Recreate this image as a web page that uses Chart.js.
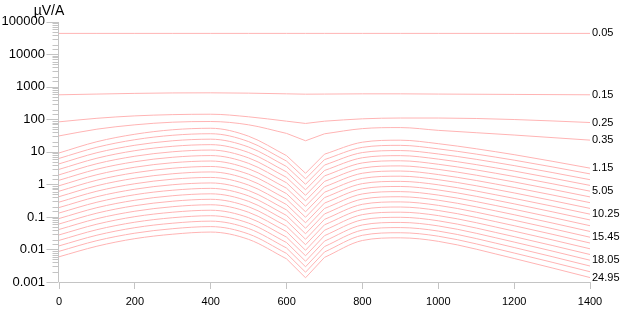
<!DOCTYPE html>
<html lang="en">
<head>
    <meta charset="UTF-8">
    <title>µV/A curves</title>
    <script src="https://cdn.jsdelivr.net/npm/chart.js"></script>
    <style>
        body { margin: 0; background: #fff; }
    </style>
</head>
<body>
    <canvas id="chart" width="623" height="314"></canvas>

    <script>
        // x positions of the samples
        const xValues = [0, 100, 200, 300, 400, 500, 600, 650, 700, 800, 900, 1000, 1200, 1400];

        // upper curves
        const c005 = [44000, 44000, 44000, 44000, 44000, 44000, 44000, 44000, 44000, 44000, 44000, 44000, 44000, 44000];
        const c015 = [570, 600, 630, 650, 655, 640, 610, 595, 600, 610, 610, 600, 585, 570];
        const c025 = [84, 108, 128, 140, 144, 120, 88, 75, 88, 104, 110, 110, 99, 80];
        const c035 = [31, 50, 68, 82, 86, 68, 37, 22, 36, 52, 56, 46, 33, 23];

        // the bundle of curves below, top to bottom
        const b01 = [9.27, 20.6, 34.9, 48.0, 53.3, 30.3, 7.66, 2.20, 8.51, 19.9, 22.9, 17.9, 8.22, 3.17];
        const b02 = [6.30, 13.9, 23.7, 32.5, 36.2, 20.7, 5.21, 1.49, 5.79, 13.8, 15.9, 12.4, 5.58, 2.11];
        const b03 = [4.28, 9.44, 16.0, 22.0, 24.6, 14.1, 3.55, 1.01, 3.94, 9.55, 11.0, 8.63, 3.79, 1.40];
        const b04 = [2.90, 6.40, 10.9, 14.9, 16.7, 9.57, 2.42, 0.684, 2.69, 6.62, 7.67, 6.00, 2.58, 0.933];
        const b05 = [1.97, 4.34, 7.36, 10.1, 11.4, 6.52, 1.64, 0.463, 1.83, 4.59, 5.33, 4.17, 1.75, 0.621];
        const b06 = [1.34, 2.94, 4.99, 6.85, 7.71, 4.44, 1.12, 0.314, 1.24, 3.18, 3.71, 2.90, 1.19, 0.413];
        const b07 = [0.910, 1.99, 3.38, 4.65, 5.24, 3.02, 0.762, 0.213, 0.847, 2.21, 2.58, 2.01, 0.807, 0.275];
        const b08 = [0.618, 1.35, 2.29, 3.15, 3.56, 2.06, 0.519, 0.144, 0.577, 1.53, 1.79, 1.40, 0.548, 0.183];
        const b09 = [0.420, 0.914, 1.55, 2.13, 2.42, 1.40, 0.353, 0.0977, 0.393, 1.06, 1.24, 0.973, 0.372, 0.122];
        const b10 = [0.285, 0.619, 1.05, 1.45, 1.64, 0.953, 0.240, 0.0662, 0.267, 0.736, 0.865, 0.676, 0.253, 0.0809];
        const b11 = [0.194, 0.420, 0.713, 0.980, 1.11, 0.649, 0.164, 0.0449, 0.182, 0.511, 0.601, 0.470, 0.172, 0.0538];
        const b12 = [0.132, 0.284, 0.483, 0.664, 0.757, 0.442, 0.111, 0.0304, 0.124, 0.354, 0.418, 0.327, 0.117, 0.0358];
        const b13 = [0.0893, 0.193, 0.327, 0.450, 0.514, 0.301, 0.0759, 0.0206, 0.0843, 0.245, 0.290, 0.227, 0.0793, 0.0238];
        const b14 = [0.0607, 0.131, 0.222, 0.305, 0.349, 0.205, 0.0516, 0.0140, 0.0574, 0.170, 0.202, 0.158, 0.0538, 0.0158];
        const b15 = [0.0412, 0.0885, 0.150, 0.207, 0.237, 0.139, 0.0352, 0.00946, 0.0391, 0.118, 0.140, 0.110, 0.0366, 0.0105];
        const b16 = [0.0280, 0.0600, 0.102, 0.140, 0.161, 0.0948, 0.0239, 0.00641, 0.0266, 0.0818, 0.0975, 0.0762, 0.0248, 0.00701];
        const b17 = [0.0190, 0.0406, 0.0690, 0.0948, 0.109, 0.0646, 0.0163, 0.00435, 0.0181, 0.0568, 0.0678, 0.0530, 0.0169, 0.00467];
        const b18 = [0.0129, 0.0275, 0.0468, 0.0643, 0.0743, 0.0440, 0.0111, 0.00294, 0.0123, 0.0394, 0.0471, 0.0368, 0.0115, 0.00310];
        const b19 = [0.00877, 0.0187, 0.0317, 0.0436, 0.0505, 0.0299, 0.00755, 0.00200, 0.00839, 0.0273, 0.0327, 0.0256, 0.00778, 0.00207];
        const b20 = [0.00596, 0.0126, 0.0215, 0.0295, 0.0343, 0.0204, 0.00514, 0.00135, 0.00571, 0.0189, 0.0228, 0.0178, 0.00528, 0.00137];

        const curves = [c005, c015, c025, c035, b01, b02, b03, b04, b05, b06, b07, b08, b09, b10,
                        b11, b12, b13, b14, b15, b16, b17, b18, b19, b20];

        // labels written at the right end (index into curves -> text)
        const endLabelIndex = [0, 1, 2, 3, 4, 8, 12, 16, 20, 23];
        const endLabelText = ['0.05', '0.15', '0.25', '0.35', '1.15', '5.05', '10.25', '15.45', '18.05', '24.95'];

        const yUnit = 'µV/A';
        const FONT = 'Arial, "Liberation Sans", sans-serif';
        const AXIS_GREY = '#c4c4c4';
        const LINE_PINK = 'rgb(255,180,180)';

        // each curve is drawn in three pieces: smooth left part, straight notch, smooth right part
        const pieces = [[0, 6, true], [6, 8, false], [8, 13, true]];

        const datasets = [];
        curves.forEach((vals, i) => {
            const k = endLabelIndex.indexOf(i);
            pieces.forEach(([a, b, smooth], p) => {
                datasets.push({
                    data: xValues.slice(a, b + 1).map((x, j) => ({ x: x, y: vals[a + j] })),
                    borderColor: LINE_PINK,
                    borderWidth: 1,
                    pointRadius: 0,
                    tension: smooth ? 0.4 : 0,
                    cubicInterpolationMode: smooth ? 'monotone' : 'default',
                    fill: false,
                    endLabel: (p === 2 && k >= 0) ? endLabelText[k] : null
                });
            });
        });

        // right-hand labels and the unit text
        const labelPlugin = {
            id: 'endLabels',
            afterDatasetsDraw(chart) {
                const c = chart.ctx;
                const area = chart.chartArea;
                c.save();
                c.font = '11px ' + FONT;
                c.fillStyle = '#000';
                c.textAlign = 'left';
                c.textBaseline = 'middle';
                chart.data.datasets.forEach((ds, i) => {
                    if (!ds.endLabel) return;
                    const pts = chart.getDatasetMeta(i).data;
                    c.fillText(ds.endLabel, area.right + 2, pts[pts.length - 1].y);
                });
                c.font = '14px ' + FONT;
                c.textAlign = 'center';
                c.fillText(yUnit, area.left - 10, 11);
                c.restore();
            }
        };

        // y axis line and log ticks: long for decades, short for the rest
        const yTickPlugin = {
            id: 'yTicks',
            afterDraw(chart) {
                const scale = chart.scales.y;
                const c = chart.ctx;
                const left = Math.round(chart.chartArea.left) - 0.5;
                c.save();
                c.strokeStyle = AXIS_GREY;
                c.lineWidth = 1;
                c.beginPath();
                c.moveTo(left, Math.round(chart.chartArea.top));
                c.lineTo(left, Math.round(chart.chartArea.bottom));
                scale.ticks.forEach(t => {
                    const l = Math.log10(t.value);
                    const major = Math.abs(l - Math.round(l)) < 1e-6;
                    const py = Math.round(scale.getPixelForValue(t.value)) + 0.5;
                    c.moveTo(left - (major ? 12 : 6), py);
                    c.lineTo(left, py);
                });
                c.stroke();
                c.restore();
            }
        };

        const ctx = document.getElementById('chart').getContext('2d');
        const myChart = new Chart(ctx, {
            type: 'line',
            data: { datasets: datasets },
            options: {
                responsive: false,
                animation: false,
                devicePixelRatio: 1,
                layout: { padding: { left: 0, top: 21, right: 33, bottom: 0 } },
                plugins: { legend: { display: false }, tooltip: { enabled: false } },
                scales: {
                    x: {
                        type: 'linear',
                        min: 0,
                        max: 1400,
                        grid: { display: true, drawOnChartArea: false, drawTicks: true, tickLength: 7, color: AXIS_GREY },
                        border: { display: true, color: AXIS_GREY },
                        ticks: {
                            stepSize: 200,
                            padding: 6,
                            color: '#000',
                            font: { family: FONT, size: 11 },
                            callback: v => String(v)
                        },
                        afterFit: s => { s.height = 32; }
                    },
                    y: {
                        type: 'logarithmic',
                        min: 0.001,
                        max: 100000,
                        grid: { display: false, drawTicks: false },
                        border: { display: false },
                        ticks: {
                            autoSkip: false,
                            padding: 14,
                            color: '#000',
                            font: { family: FONT, size: 13 },
                            callback: v => {
                                const l = Math.log10(v);
                                return Math.abs(l - Math.round(l)) < 1e-6 ? String(Number(v.toPrecision(3))) : '';
                            }
                        },
                        afterFit: s => { s.width = 59; }
                    }
                }
            },
            plugins: [labelPlugin, yTickPlugin]
        });
    </script>
</body>
</html>
